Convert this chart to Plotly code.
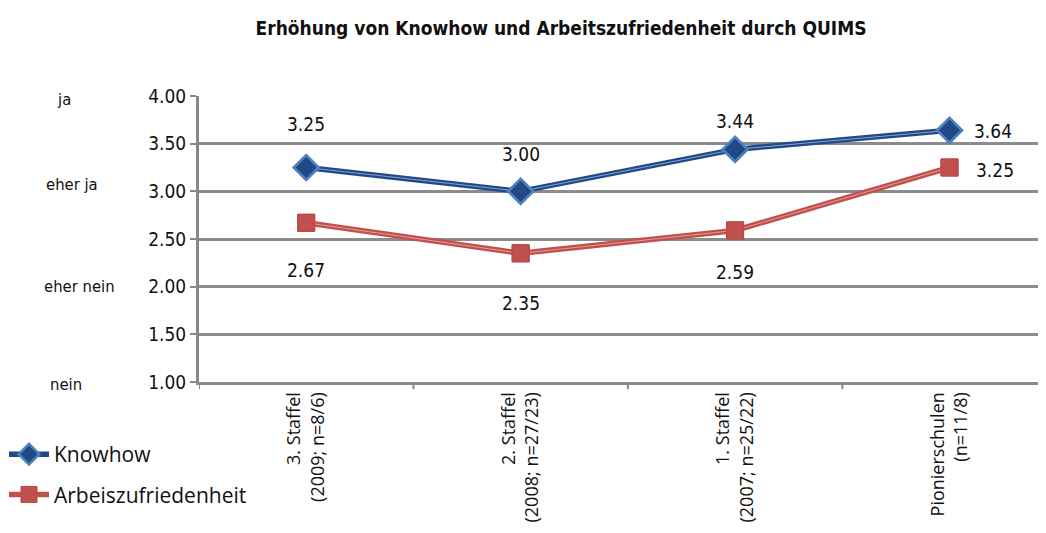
import plotly.graph_objects as go

categories = ["3. Staffel<br>(2009; n=8/6)", "2. Staffel<br>(2008; n=27/23)",
              "1. Staffel<br>(2007; n=25/22)", "Pionierschulen<br>(n=11/8)"]
knowhow = [3.25, 3.00, 3.44, 3.64]
arbeit = [2.67, 2.35, 2.59, 3.25]
y_ticks = [1.0, 1.5, 2.0, 2.5, 3.0, 3.5, 4.0]
scale_labels = ["nein", "eher nein", "eher ja", "ja"]
scale_values = [1.0, 2.0, 3.0, 4.0]

NARROW = "Liberation Sans Narrow, Arial Narrow, DejaVu Sans Condensed, sans-serif"
SANS = "Open Sans, Noto Sans, DejaVu Sans, sans-serif"

# page has an 8px body margin; work in figure coordinates offset by 8px
OFF = 8
W, H = 1046 - OFF, 533 - OFF
L = 199 - OFF
T = 96 - OFF
B = H - (382 - OFF)
PW = W - L
PH = H - T - B

x = list(range(len(categories)))
fig = go.Figure()

BLUE_D = "#1F4A85"
BLUE_L = "#4F81BD"
RED = "#C0504D"

fig.add_trace(go.Scatter(
    x=x, y=knowhow, mode="lines+markers", name="Knowhow", legendgroup="k",
    line=dict(color=BLUE_D, width=5.5),
    marker=dict(symbol="diamond", size=19, color=BLUE_D, line=dict(color=BLUE_L, width=2.5)),
))
fig.add_trace(go.Scatter(
    x=x, y=knowhow, mode="lines", showlegend=False, hoverinfo="skip",
    line=dict(color="#7FA3D0", width=1),
))
fig.add_trace(go.Scatter(
    x=x, y=knowhow, mode="markers", showlegend=False, hoverinfo="skip",
    marker=dict(symbol="diamond", size=19, color=BLUE_D, line=dict(color=BLUE_L, width=2.5)),
))
fig.add_trace(go.Scatter(
    x=x, y=arbeit, mode="lines+markers", name="Arbeiszufriedenheit", legendgroup="a",
    line=dict(color=RED, width=5.5),
    marker=dict(symbol="square", size=17, color=RED, line=dict(color="#B84845", width=1)),
))
fig.add_trace(go.Scatter(
    x=x, y=arbeit, mode="lines", showlegend=False, hoverinfo="skip",
    line=dict(color="#E39A98", width=1),
))
fig.add_trace(go.Scatter(
    x=x, y=arbeit, mode="markers", showlegend=False, hoverinfo="skip",
    marker=dict(symbol="square", size=17, color=RED, line=dict(color="#B84845", width=1)),
))

LBL_FONT = dict(family=NARROW, size=19, color="#111")
k_shift = [44, 37, 28]
a_shift = [-47, -50, -42]
annotations = []
for i, v in enumerate(knowhow):
    if i == len(knowhow) - 1:
        annotations.append(dict(x=i, y=v, text=f"{v:.2f}", showarrow=False, xanchor="left",
                                xshift=22, yshift=-1, font=LBL_FONT))
    else:
        annotations.append(dict(x=i, y=v, text=f"{v:.2f}", showarrow=False,
                                yshift=k_shift[i], font=LBL_FONT))
for i, v in enumerate(arbeit):
    if i == len(arbeit) - 1:
        annotations.append(dict(x=i, y=v, text=f"{v:.2f}", showarrow=False, xanchor="left",
                                xshift=24, yshift=-2, font=LBL_FONT))
    else:
        annotations.append(dict(x=i, y=v, text=f"{v:.2f}", showarrow=False,
                                yshift=a_shift[i], font=LBL_FONT))

scale_px = {"ja": 55, "eher ja": 44, "eher nein": 42, "nein": 48}
scale_shift = {"ja": -3, "eher ja": 7, "eher nein": 0, "nein": -2}
for lbl, v in zip(scale_labels, scale_values):
    annotations.append(dict(x=(scale_px[lbl] - OFF - L) / PW, xref="paper", y=v, yref="y",
                            text=lbl, showarrow=False, xanchor="left", yshift=scale_shift[lbl],
                            font=dict(family=NARROW, size=16.5, color="#111")))

fig.update_layout(
    width=W, height=H,
    margin=dict(l=L, r=0, t=T, b=B, autoexpand=False),
    paper_bgcolor="white", plot_bgcolor="white",
    title=dict(text="<b>Erhöhung von Knowhow und Arbeitszufriedenheit durch QUIMS</b>",
               x=(561 - OFF) / W, xref="container", xanchor="center",
               y=1 - (28 - OFF) / H, yanchor="middle",
               font=dict(family=NARROW, size=19, color="#111")),
    xaxis=dict(range=[-0.5, 3.45], tickvals=x, ticktext=categories, tickangle=-90,
               showgrid=False, zeroline=False, showline=True, linecolor="#888", linewidth=3,
               ticks="", tickfont=dict(family=SANS, size=18, color="#111"), fixedrange=True),
    yaxis=dict(range=[1.0, 4.0], tickvals=y_ticks, ticktext=[f"{t:.2f}" for t in y_ticks],
               showgrid=True, gridcolor="#8C8C8C", gridwidth=3, zeroline=False,
               showline=True, linecolor="#888", linewidth=3, ticks="outside", ticklen=6,
               tickcolor="#888", tickwidth=2,
               tickfont=dict(family=NARROW, size=19, color="#111"), fixedrange=True),
    showlegend=True,
    legend=dict(x=(4 - OFF - L) / PW, xanchor="left", y=-(434 - 382) / PH, yanchor="top",
                font=dict(family=SANS, size=21, color="#111"), tracegroupgap=10,
                bgcolor="rgba(0,0,0,0)", itemwidth=40),
    annotations=annotations,
)

for b in [-0.5, 0.5, 1.5, 2.5]:
    fig.add_shape(type="line", xref="x", yref="paper", x0=b, x1=b, y0=0, y1=-0.025,
                  line=dict(color="#888", width=2))

fig.write_html("out.html")
